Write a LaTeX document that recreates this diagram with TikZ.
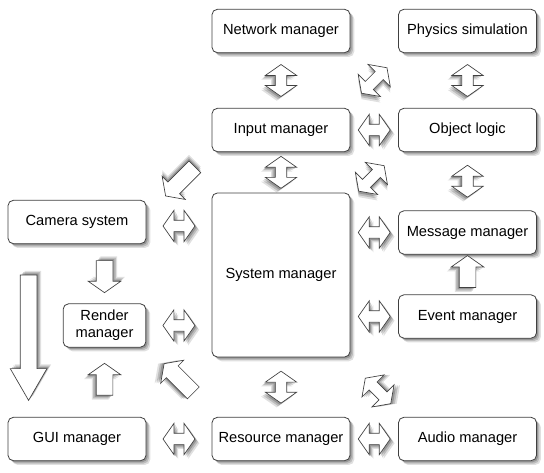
\documentclass[tikz,border=0pt]{standalone}
\usepackage{fontspec}
\setmainfont{Liberation Sans}
\usetikzlibrary{shapes.arrows,shadows,calc,positioning}
\tikzset{soft shadow/.style n args={6}{
    drop shadow={shadow xshift=#1,shadow yshift=#2,opacity=.12,fill=black},
    drop shadow={shadow xshift=#3,shadow yshift=#4,opacity=.16,fill=black},
    drop shadow={shadow xshift=#5,shadow yshift=#6,opacity=.2,fill=black}},
  upright/.style={rotate=90,soft shadow={-3.2pt}{-3.2pt}{-2.2pt}{-2.2pt}{-1.2pt}{-1.2pt}},
  downward/.style={rotate=-90,soft shadow={3.2pt}{3.2pt}{2.2pt}{2.2pt}{1.2pt}{1.2pt}},
  tilt ne/.style={rotate=45,soft shadow={0pt}{-4.5pt}{0pt}{-3.1pt}{0pt}{-1.7pt}},
  tilt se/.style={rotate=-45,soft shadow={4.5pt}{0pt}{3.1pt}{0pt}{1.7pt}{0pt}},
  tilt nw/.style={rotate=135,soft shadow={-4.5pt}{0pt}{-3.1pt}{0pt}{-1.7pt}{0pt}},
  tilt sw/.style={rotate=225,soft shadow={0pt}{4.5pt}{0pt}{3.1pt}{0pt}{1.7pt}}}
\tikzstyle{flat}=[soft shadow={3.2pt}{-3.2pt}{2.2pt}{-2.2pt}{1.2pt}{-1.2pt}]
\tikzstyle{module}=[draw=black!75,line width=0.6pt,fill=white,rounded corners=4pt,minimum width=103.5pt,minimum height=32.5pt,inner sep=2pt,align=center,font=\fontsize{11}{13}\selectfont,flat]
\tikzstyle{twoway}=[double arrow,draw=black!75,line width=0.5pt,fill=white,minimum height=24pt,double arrow head extend=7.5pt,double arrow tip angle=110,inner sep=4pt]
\tikzstyle{oneway}=[single arrow,draw=black!75,line width=0.5pt,fill=white,minimum height=24pt,single arrow head extend=6pt,single arrow tip angle=110,inner sep=6pt]

\begin{document}
\begin{tikzpicture}[x=0.75pt,y=-0.75pt]
  \useasboundingbox (0,0) rectangle (544,473);

  % managers
  \node[module] (net)    at (281,31)    {Network manager};
  \node[module] (phys)   at (467.5,31)  {Physics simulation};
  \node[module] (input)  at (281,130)   {Input manager};
  \node[module] (obj)    at (467.5,130) {Object logic};
  \node[module] (cam)    at (77,222)    {Camera system};
  \node[module, minimum height=123pt] (sys) at (281,275) {System manager};
  \node[module] (msg)    at (467.5,232.5) {Message manager};
  \node[module, minimum width=62pt] (render) at (104.5,325.5) {Render\\manager};
  \node[module] (event)  at (467.5,316.5) {Event manager};
  \node[module] (gui)    at (77,439)    {GUI manager};
  \node[module] (res)    at (281,439)   {Resource manager};
  \node[module] (audio)  at (467.5,439) {Audio manager};

  % two-way links
  \node[twoway, upright] (netinput) at ($(net)!.5!(input)$) {};
  \node[twoway, upright] (physobj) at ($(phys)!.5!(obj)$) {};
  \node[twoway, flat] (inputobj) at ($(input)!.5!(obj)$) {};
  \node[twoway, tilt ne, minimum height=27pt] (inputphys) at ($(input.north east)!.5!(phys.south west)$) {};
  \node[twoway, upright] (inputsys) at ($(input.south)!.5!(sys.north)$) {};
  \node[twoway, upright] (objmsg) at ($(obj.south)!.5!(msg.north)$) {};
  \node[twoway, tilt ne, minimum height=27pt, yshift=3pt] (sysobj) at ($(input.south east)!.5!(msg.north west)$) {};
  \node[twoway, flat, yshift=-3pt] (camsys) at ($(cam.east)!.5!(cam.east -| sys.west)$) {};
  \node[twoway, flat] (rendersys) at ($(render.east)!.5!(render.east -| sys.west)$) {};
  \node[twoway, flat] (sysmsg) at ($(msg.west -| sys.east)!.5!(msg.west)$) {};
  \node[twoway, flat] (sysevent) at ($(event.west -| sys.east)!.5!(event.west)$) {};
  \node[twoway, upright] (sysres) at ($(sys.south)!.5!(res.north)$) {};
  \node[twoway, tilt se, minimum height=27pt, xshift=4pt] (sysaudio) at ($(sys.south east)!.5!(audio.north west)$) {};
  \node[twoway, flat] (guires) at ($(gui.east)!.5!(res.west)$) {};
  \node[twoway, flat] (resaudio) at ($(res.east)!.5!(audio.west)$) {};

  % one-way links
  \node[oneway, upright] (eventmsg) at ($(event.north)!.5!(msg.south)$) {};
  \node[oneway, downward] (camrender) at ($(cam.south -| render)!.5!(render.north)$) {};
  \node[oneway, upright] (guirender) at ($(gui.north -| render)!.5!(render.south)$) {};
  \node[oneway, tilt sw, minimum height=31pt, yshift=3.5pt] (inputcam) at ($(input.south west)!.5!(cam.north east)$) {};
  \node[oneway, tilt nw, minimum height=31pt, yshift=-2pt] (ressys) at ($(render.south east)!.5!(res.north west)$) {};
  \node[oneway, downward, minimum height=94pt, single arrow head extend=7.5pt, single arrow tip angle=60] (camgui) at ($(cam.south west)!.5!(gui.north west)+(21,0)$) {};
\end{tikzpicture}
\end{document}
